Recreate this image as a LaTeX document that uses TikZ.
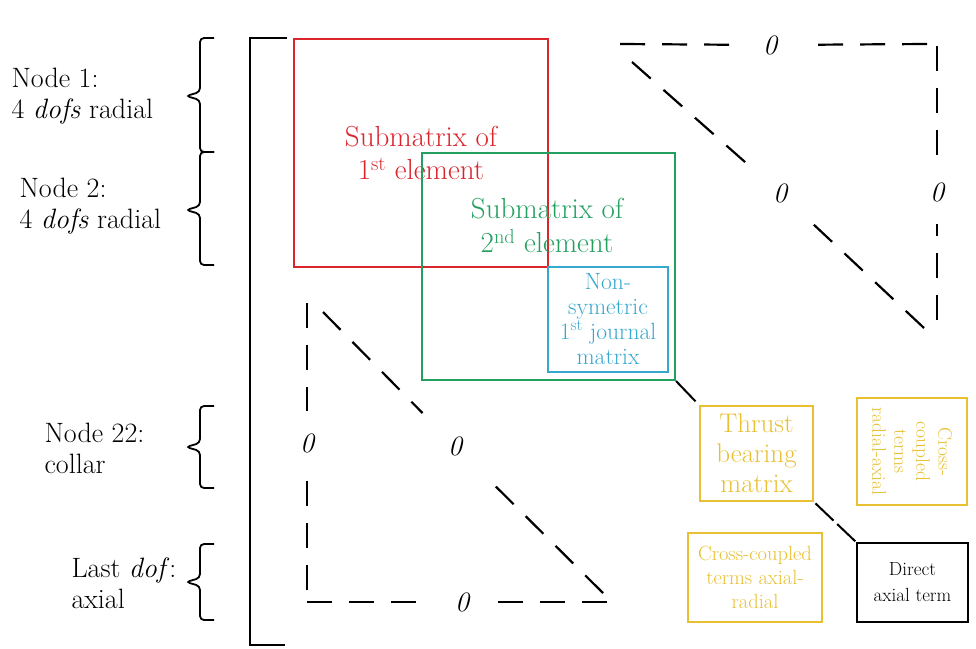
\documentclass[tikz,border=0pt]{standalone}
\usepackage{tikz}
\definecolor{subred}{RGB}{218,37,45}
\definecolor{subgreen}{RGB}{35,160,95}
\definecolor{jrnblue}{RGB}{55,168,205}
\definecolor{thryellow}{RGB}{232,192,50}

\begin{document}
\begin{tikzpicture}[x=1pt,y=-1pt,
  box/.style={draw,line width=2pt,inner sep=0pt,align=center},
  sidelbl/.style={anchor=west,align=left,font=\fontsize{28}{31}\selectfont},
  zeroent/.style={circle,inner sep=0pt,minimum size=64pt,font=\fontsize{28}{28}\selectfont\itshape},
  dashline/.style={line width=2.2pt,dash pattern=on 25pt off 17pt}]
\useasboundingbox (0,0) rectangle (976,648);

% outer bracket of the matrix
\draw[line width=2.5pt] (287,38) -- (250,38) -- (250,645) -- (285,645);

% braces and side labels
\foreach \t/\m/\b in {38/96/152, 152/210/265, 406/447/488, 544/582/620}
  \draw[line width=1.8pt,rounded corners=4pt] (214,\t) -- (200,\t) -- (200,\m-4) -- (186,\m) -- (200,\m+4) -- (200,\b) -- (214,\b);
\node[sidelbl] (nodeone) at (8,96) {Node 1:\\4 \textit{dofs} radial};
\node[sidelbl] (nodetwo) at (16,206) {Node 2:\\4 \textit{dofs} radial};
\node[sidelbl] (nodecollar) at (41,448) {Node 22:\\collar};
\node[sidelbl] (lastdof) at (68,583) {Last \textit{dof}:\\axial};

% element submatrices
\node[box,draw=subred,text=subred,minimum width=254pt,minimum height=228pt,font=\fontsize{29}{33}\selectfont] (elone) at (421,153) {Submatrix of\\1\textsuperscript{st} element};
\node[box,draw=subgreen,minimum width=253pt,minimum height=227pt] (eltwo) at (548.5,266.5) {};
\node[text=subgreen,align=center,font=\fontsize{29}{34}\selectfont] (eltwotxt) at (547,225) {Submatrix of\\2\textsuperscript{nd} element};
\node[box,draw=jrnblue,text=jrnblue,minimum width=120pt,minimum height=105pt,font=\fontsize{23.5}{25}\selectfont] (journal) at (608,319.5) {Non-\\symetric\\1\textsuperscript{st} journal\\matrix};

% thrust bearing blocks
\node[box,draw=thryellow,text=thryellow,minimum width=113pt,minimum height=95pt,font=\fontsize{27}{30}\selectfont] (thrust) at (756.5,453.5) {Thrust\\bearing\\matrix};
\node[box,draw=thryellow,text=thryellow,rotate=-90,minimum width=107pt,minimum height=110pt,font=\fontsize{19.5}{22}\selectfont] (crossra) at (912,451.5) {Cross-\\coupled\\terms\\radial-axial};
\node[box,draw=thryellow,text=thryellow,minimum width=134pt,minimum height=89pt,font=\fontsize{20.5}{24}\selectfont] (crossar) at (755,577.5) {Cross-coupled\\terms axial-\\radial};
\node[box,draw=black,minimum width=111pt,minimum height=79pt,font=\fontsize{19}{26}\selectfont] (axial) at (912.5,582.5) {Direct\\axial term};
\draw[line width=2pt,shorten >=5pt] (eltwo.south east) -- (thrust.north west);
\draw[line width=2pt,dash pattern=on 25pt off 5pt,shorten <=2pt] (thrust.south east) -- (axial.north west);

% upper zero triangle
\coordinate (ua) at (620,44);
\coordinate (ub) at (927,44);
\coordinate (uc) at (937,46);
\coordinate (ud) at (937,320);
\coordinate (ue) at (632,62);
\coordinate (uf) at (924,328);
\node[zeroent] (uztop) at (770,45) {0};
\node[zeroent] (uzside) at (937,192) {0};
\node[zeroent] (uzdiag) at (780,193) {0};
\draw[dashline] (ua) -- (uztop);
\draw[dashline] (ub) -- (uztop);
\draw[dashline] (uc) -- (uzside);
\draw[dashline] (ud) -- (uzside);
\draw[dashline] (ue) -- (uzdiag);
\draw[dashline] (uf) -- (uzdiag);

% lower zero triangle
\coordinate (la) at (307,303);
\coordinate (lb) at (307,590);
\coordinate (lc) at (307,602);
\coordinate (ld) at (607,602);
\coordinate (le) at (323,312);
\coordinate (lf) at (603,593);
\node[zeroent] (lzside) at (307,443) {0};
\node[zeroent] (lzbot) at (462,602) {0};
\node[zeroent] (lzdiag) at (455,446) {0};
\draw[dashline] (la) -- (lzside);
\draw[dashline] (lb) -- (lzside);
\draw[dashline] (lc) -- (lzbot);
\draw[dashline] (ld) -- (lzbot);
\draw[dashline,shorten >=14pt] (le) -- (lzdiag);
\draw[dashline,shorten >=22pt] (lf) -- (lzdiag);
\end{tikzpicture}
\end{document}
